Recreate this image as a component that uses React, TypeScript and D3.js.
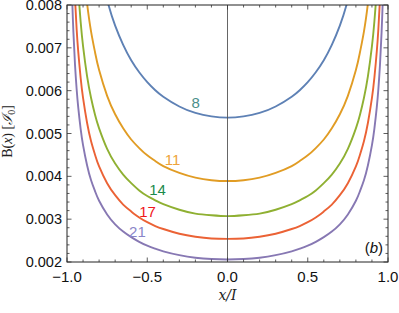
import React from "react";
import * as d3 from "d3";

const W = 399;
const H = 313;

// sampled |x| positions (x / I), from the wall to the centre
const halfX = [0.98, 0.97, 0.96, 0.95, 0.94, 0.93, 0.915, 0.9, 0.875, 0.85, 0.825, 0.8, 0.75, 0.7,
  0.65, 0.6, 0.55, 0.5, 0.45, 0.4, 0.3, 0.2, 0.1, 0];

// half-profiles at the |x| above (mirrored for x > 0)
const half8 = [0.027, 0.0221, 0.0192, 0.0172, 0.0157, 0.0146, 0.0133, 0.0123, 0.0111, 0.0102, 0.0095, 0.00895,
  0.00812, 0.00752, 0.00707, 0.00671, 0.00643, 0.0062, 0.00601, 0.00586, 0.00563, 0.00548, 0.0054, 0.00537];
const half11 = [0.01955, 0.016, 0.01389, 0.01246, 0.0114, 0.01058, 0.00964, 0.00892, 0.00804, 0.00738, 0.00689, 0.00648,
  0.00588, 0.00545, 0.00512, 0.00486, 0.00466, 0.00449, 0.00436, 0.00424, 0.00408, 0.00397, 0.00391, 0.00389];
const half14 = [0.01543, 0.01263, 0.01096, 0.00983, 0.009, 0.00835, 0.00761, 0.00704, 0.00634, 0.00583, 0.00543, 0.00512,
  0.00464, 0.0043, 0.00404, 0.00384, 0.00367, 0.00354, 0.00344, 0.00335, 0.00322, 0.00313, 0.00309, 0.00307];
const half17 = [0.01276, 0.01045, 0.00907, 0.00814, 0.00744, 0.00691, 0.0063, 0.00583, 0.00525, 0.00482, 0.0045, 0.00423,
  0.00384, 0.00356, 0.00334, 0.00318, 0.00304, 0.00293, 0.00284, 0.00277, 0.00266, 0.00259, 0.00255, 0.00254];
const half21 = [0.01035, 0.00847, 0.00736, 0.0066, 0.00604, 0.00561, 0.00511, 0.00473, 0.00426, 0.00391, 0.00365, 0.00343,
  0.00311, 0.00288, 0.00271, 0.00258, 0.00247, 0.00238, 0.00231, 0.00225, 0.00216, 0.0021, 0.00207, 0.00206];

const xs = [...halfX.map((v) => -v), ...halfX.slice(0, halfX.length - 1).reverse()];
const mirror = (h: number[]) => [...h, ...h.slice(0, h.length - 1).reverse()];

const seriesNames = ["8", "11", "14", "17", "21"];
const seriesValues = [mirror(half8), mirror(half11), mirror(half14), mirror(half17), mirror(half21)];
const lineColors = ["#5e81b5", "#e19c24", "#8fb032", "#eb6235", "#8778b3"];
const labelColors = ["#4a8f8a", "#eea33a", "#1b8a4c", "#f0161c", "#8a86c9"];
// label anchor (x, y data coords, baseline)
const labelX = [-0.199, -0.343, -0.436, -0.498, -0.561];
const labelY = [0.005589, 0.004265, 0.003564, 0.003044, 0.002591];

const xTicks = [-1.0, -0.5, 0.0, 0.5, 1.0];
const xTickLabels = ["\u22121.0", "\u22120.5", "0.0", "0.5", "1.0"];
const yTicks = [0.002, 0.003, 0.004, 0.005, 0.006, 0.007, 0.008];
const yTickLabels = ["0.002", "0.003", "0.004", "0.005", "0.006", "0.007", "0.008"];

export default function App() {
  const left = 67, right = 388, top = 5, bottom = 262;
  const x = d3.scaleLinear().domain([-1, 1]).range([left, right]);
  const y = d3.scaleLinear().domain([0.002, 0.008]).range([bottom, top]);
  const line = d3
    .line<number>()
    .x((_, i) => x(xs[i]))
    .y((d) => y(d))
    .curve(d3.curveNatural);

  const xMinor = d3.range(-10, 11).map((i) => i / 10);
  const yMinor = d3.range(10, 41).map((i) => i / 5000);
  const isMajorX = (v: number) => Math.abs(v * 2 - Math.round(v * 2)) < 1e-6;
  const isMajorY = (v: number) => Math.abs(v * 1000 - Math.round(v * 1000)) < 1e-6;
  const tickStroke = "#333";
  const font = "'Liberation Sans', Arial, sans-serif";

  return (
    <svg width={W} height={H} style={{ position: "absolute", left: 0, top: 0, background: "#fff" }}>
      <defs>
        <clipPath id="plot">
          <rect x={left} y={top} width={right - left} height={bottom - top} />
        </clipPath>
      </defs>
      <g clipPath="url(#plot)">
        {seriesValues.map((vals, i) => (
          <path key={i} d={line(vals) || ""} fill="none" stroke={lineColors[i]} strokeWidth={1.9} />
        ))}
      </g>
      {/* vertical line at x=0 */}
      <line x1={x(0)} x2={x(0)} y1={top} y2={bottom} stroke="#555" strokeWidth={0.9} />
      {seriesNames.map((n, i) => (
        <text key={n} x={x(labelX[i])} y={y(labelY[i])} fill={labelColors[i]} fontFamily={font}
          fontSize={15} textAnchor="middle">{n}</text>
      ))}
      {/* frame */}
      <rect x={left} y={top} width={right - left} height={bottom - top} fill="none" stroke="#222" strokeWidth={1} />
      {xMinor.map((v, i) => {
        const len = isMajorX(v) ? 4.5 : 2.5;
        return (
          <g key={"xt" + i}>
            <line x1={x(v)} x2={x(v)} y1={bottom} y2={bottom - len} stroke={tickStroke} strokeWidth={0.8} />
            <line x1={x(v)} x2={x(v)} y1={top} y2={top + len} stroke={tickStroke} strokeWidth={0.8} />
          </g>
        );
      })}
      {yMinor.map((v, i) => {
        const len = isMajorY(v) ? 4.5 : 2.5;
        return (
          <g key={"yt" + i}>
            <line x1={left} x2={left + len} y1={y(v)} y2={y(v)} stroke={tickStroke} strokeWidth={0.8} />
            <line x1={right} x2={right - len} y1={y(v)} y2={y(v)} stroke={tickStroke} strokeWidth={0.8} />
          </g>
        );
      })}
      {xTicks.map((v, i) => (
        <text key={"xl" + i} x={x(v)} y={282} textAnchor="middle" fontFamily={font} fontSize={15} fill="#111">
          {xTickLabels[i]}
        </text>
      ))}
      {yTicks.map((v, i) => (
        <text key={"yl" + i} x={62} y={y(v) + 5} textAnchor="end" fontFamily={font} fontSize={14.5} fill="#111">
          {yTickLabels[i]}
        </text>
      ))}
      <text x={383} y={253} textAnchor="end" fontFamily={font} fontSize={15} fill="#111">
        (<tspan fontStyle="italic">b</tspan>)
      </text>
      <text x={x(0)} y={300} textAnchor="middle" fontFamily="'DejaVu Serif', 'Liberation Serif', serif"
        fontStyle="italic" fontSize={14} fill="#222">x/I</text>
      <text transform={`translate(12,${(top + bottom) / 2 - 2}) rotate(-90)`} textAnchor="middle"
        fontFamily="'Liberation Serif', 'DejaVu Serif', serif" fontSize={14} fill="#222">
        B(<tspan fontStyle="italic">x</tspan>) [<tspan fontStyle="italic">ℐ</tspan><tspan fontSize={10} dy={3}>0</tspan><tspan dy={-3}>]</tspan>
      </text>
    </svg>
  );
}
